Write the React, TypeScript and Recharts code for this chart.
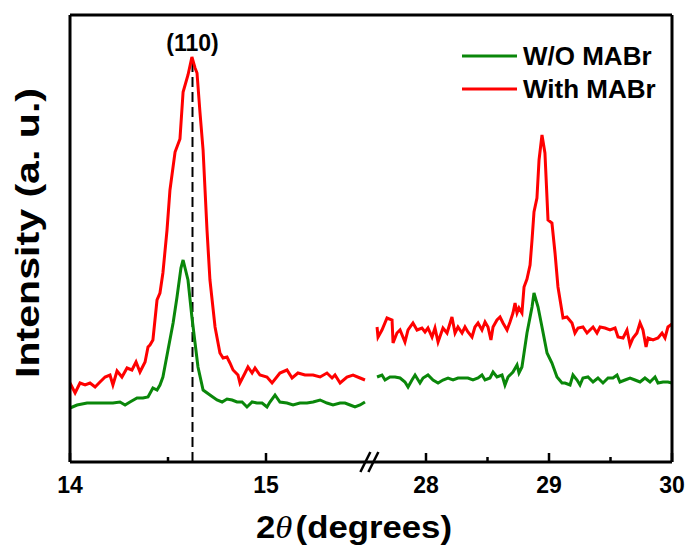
import { Line, LineChart, ReferenceLine, XAxis, YAxis } from "recharts";

// [2θ (deg), intensity (a.u.)]
const greenLow: [number, number][] = [
  [14.0, 54], [14.036, 57], [14.087, 59], [14.138, 59], [14.189, 59], [14.219, 59], [14.255, 60], [14.281, 57],
  [14.306, 60], [14.342, 64], [14.372, 64], [14.398, 65], [14.423, 74], [14.444, 72], [14.459, 77], [14.474, 85],
  [14.5, 112], [14.526, 139], [14.546, 165], [14.566, 194], [14.577, 202], [14.602, 182], [14.622, 145],
  [14.638, 119], [14.653, 95], [14.679, 72], [14.714, 67], [14.75, 62], [14.776, 60], [14.801, 63], [14.827, 62],
  [14.852, 60], [14.878, 60], [14.903, 55], [14.929, 60], [14.954, 59], [14.98, 59], [15.005, 55], [15.02, 60],
  [15.046, 67], [15.071, 60], [15.107, 59], [15.138, 57], [15.173, 59], [15.209, 59], [15.24, 60], [15.276, 62],
  [15.311, 59], [15.342, 57], [15.378, 59], [15.403, 59], [15.429, 57], [15.454, 55], [15.48, 57], [15.505, 60],
];
const redLow: [number, number][] = [
  [14.0, 79], [14.026, 69], [14.051, 79], [14.077, 77], [14.102, 79], [14.128, 75], [14.153, 80], [14.179, 85],
  [14.204, 87], [14.219, 77], [14.24, 91], [14.265, 85], [14.291, 94], [14.316, 92], [14.337, 100], [14.357, 90],
  [14.383, 100], [14.398, 115], [14.408, 117], [14.423, 122], [14.444, 162], [14.459, 169], [14.474, 189],
  [14.495, 232], [14.51, 272], [14.536, 310], [14.561, 323], [14.577, 370], [14.602, 387], [14.622, 405],
  [14.638, 394], [14.648, 389], [14.663, 350], [14.679, 312], [14.689, 272], [14.699, 232], [14.714, 182],
  [14.74, 135], [14.765, 109], [14.781, 104], [14.801, 105], [14.816, 99], [14.832, 92], [14.857, 87], [14.867, 79],
  [14.893, 89], [14.908, 95], [14.929, 89], [14.944, 94], [14.969, 87], [15.005, 85], [15.031, 79], [15.071, 89],
  [15.107, 92], [15.133, 84], [15.163, 89], [15.199, 87], [15.24, 87], [15.276, 85], [15.311, 89], [15.337, 84],
  [15.352, 87], [15.378, 79], [15.413, 85], [15.444, 87], [15.48, 84], [15.505, 82],
];
const greenHigh: [number, number][] = [
  [27.602, 85], [27.642, 87], [27.667, 82], [27.707, 85], [27.748, 85], [27.789, 84], [27.829, 80], [27.854, 75],
  [27.886, 82], [27.911, 87], [27.951, 79], [27.976, 84], [28.016, 87], [28.057, 82], [28.098, 79], [28.138, 82],
  [28.179, 84], [28.22, 82], [28.26, 84], [28.301, 84], [28.341, 84], [28.382, 82], [28.423, 84], [28.455, 87],
  [28.48, 82], [28.52, 84], [28.545, 90], [28.577, 85], [28.618, 87], [28.642, 77], [28.667, 85], [28.707, 90],
  [28.74, 97], [28.756, 89], [28.78, 95], [28.797, 109], [28.821, 129], [28.862, 155], [28.878, 169], [28.911, 155],
  [28.943, 135], [28.984, 109], [29.024, 99], [29.065, 85], [29.106, 79], [29.13, 79], [29.171, 77], [29.195, 87],
  [29.228, 82], [29.252, 77], [29.276, 84], [29.317, 85], [29.358, 80], [29.398, 84], [29.439, 79], [29.48, 84],
  [29.52, 84], [29.553, 87], [29.577, 80], [29.618, 82], [29.659, 84], [29.699, 82], [29.74, 80], [29.78, 84],
  [29.821, 80], [29.862, 85], [29.886, 79], [29.927, 80], [29.967, 80], [30.0, 79],
];
const redHigh: [number, number][] = [
  [27.602, 135], [27.61, 125], [27.642, 132], [27.683, 144], [27.724, 142], [27.732, 119], [27.764, 129],
  [27.789, 132], [27.829, 120], [27.854, 132], [27.894, 139], [27.927, 132], [27.967, 134], [27.992, 130],
  [28.016, 134], [28.049, 125], [28.073, 134], [28.098, 120], [28.138, 134], [28.171, 129], [28.211, 145],
  [28.236, 129], [28.26, 135], [28.293, 129], [28.317, 135], [28.341, 130], [28.374, 125], [28.398, 135],
  [28.423, 139], [28.455, 132], [28.48, 140], [28.504, 135], [28.528, 122], [28.545, 135], [28.577, 142],
  [28.602, 145], [28.626, 139], [28.659, 132], [28.683, 140], [28.707, 149], [28.724, 159], [28.74, 149],
  [28.756, 154], [28.78, 149], [28.797, 175], [28.821, 183], [28.846, 197], [28.862, 222], [28.878, 250],
  [28.902, 264], [28.919, 302], [28.943, 327], [28.967, 309], [28.992, 242], [29.024, 239], [29.049, 209],
  [29.073, 175], [29.114, 144], [29.146, 145], [29.187, 139], [29.211, 129], [29.236, 134], [29.276, 135],
  [29.309, 129], [29.333, 132], [29.358, 135], [29.39, 129], [29.415, 135], [29.455, 134], [29.496, 132],
  [29.537, 134], [29.561, 125], [29.602, 124], [29.634, 132], [29.659, 117], [29.683, 124], [29.715, 129],
  [29.74, 139], [29.764, 132], [29.789, 115], [29.805, 124], [29.846, 122], [29.886, 124], [29.919, 129],
  [29.943, 124], [29.967, 135], [30.0, 138],
];

const majorTicks = [14, 15, 28, 29, 30];
const minorTicks = [14.5, 28.5, 29.5];
const peak110 = 14.625;
const peakLabel = "(110)";
const seriesNames = ["W/O MABr", "With MABr"];

const GREEN = "#0a870a";
const RED = "#ff0000";
const FONT = "'Liberation Sans', Arial, sans-serif";

// broken x axis: both pieces live on one numeric scale, left piece 196 units/deg, right piece 123 units/deg
function toU(t: number) {
  return t < 20 ? (t - 14) * 196 : 356 + (t - 28) * 123;
}
const U_MAX = toU(30);
const I_MAX = 447;

const rows = (pts: [number, number][]) => pts.map(([t, i]) => ({ u: toU(t), i }));

const tickList = [...majorTicks.map((t) => ({ t, major: true })), ...minorTicks.map((t) => ({ t, major: false }))];

function BottomTick(props: any) {
  const { x, y, payload } = props;
  const info = tickList.find((d) => Math.abs(toU(d.t) - payload.value) < 0.01);
  if (!info) return null;
  return (
    <g>
      <line x1={x} x2={x} y1={y} y2={y - (info.major ? 9 : 5)} stroke="#000" strokeWidth={2.5} />
      {info.major && (
        <text x={x} y={y + 31} textAnchor="middle" fontSize={23} fontWeight="bold" fontFamily={FONT} fill="#000">
          {info.t}
        </text>
      )}
    </g>
  );
}

const frame = { stroke: "#000", strokeWidth: 3 };
const ax = { xAxisId: "b", yAxisId: "l" };

export default function App() {
  const breakU = (toU(15.51) + toU(27.6)) / 2;
  return (
    <div style={{ position: "absolute", left: 0, top: 0, width: 691, height: 548, background: "#fff" }}>
      <LineChart width={691} height={548} margin={{ top: 14, right: 18, bottom: 56, left: 69 }}>
        <XAxis
          xAxisId="b"
          type="number"
          dataKey="u"
          domain={[0, U_MAX]}
          ticks={tickList.map((d) => toU(d.t))}
          interval={0}
          tick={<BottomTick />}
          tickLine={false}
          tickSize={0}
          tickMargin={0}
          height={30}
          axisLine={frame}
          allowDataOverflow
        />
        <XAxis xAxisId="t" orientation="top" type="number" domain={[0, U_MAX]} tick={false} tickLine={false} height={1} axisLine={frame} />
        <YAxis yAxisId="l" type="number" domain={[0, I_MAX]} tick={false} tickLine={false} width={1} axisLine={frame} allowDataOverflow />
        <YAxis yAxisId="r" orientation="right" type="number" domain={[0, I_MAX]} tick={false} tickLine={false} width={1} axisLine={frame} />

        <ReferenceLine
          {...ax}
          segment={[{ x: toU(peak110), y: 0 }, { x: toU(peak110), y: 405 }]}
          stroke="#000"
          strokeWidth={2}
          strokeDasharray="10 5"
          label={{ value: peakLabel, position: "top", offset: 6, fill: "#000", fontSize: 23, fontWeight: "bold", fontFamily: FONT }}
        />
        <ReferenceLine {...ax} ifOverflow="visible" segment={[{ x: breakU - 11, y: -10 }, { x: breakU - 1, y: 10 }]} stroke="#000" strokeWidth={2.5} />
        <ReferenceLine {...ax} ifOverflow="visible" segment={[{ x: breakU - 3, y: -10 }, { x: breakU + 7, y: 10 }]} stroke="#000" strokeWidth={2.5} />

        <Line {...ax} data={rows(greenLow)} dataKey="i" stroke={GREEN} strokeWidth={3} dot={false} isAnimationActive={false} />
        <Line {...ax} data={rows(greenHigh)} dataKey="i" stroke={GREEN} strokeWidth={3} dot={false} isAnimationActive={false} />
        <Line {...ax} data={rows(redLow)} dataKey="i" stroke={RED} strokeWidth={3} dot={false} isAnimationActive={false} />
        <Line {...ax} data={rows(redHigh)} dataKey="i" stroke={RED} strokeWidth={3} dot={false} isAnimationActive={false} />
      </LineChart>

      <svg width={691} height={548} style={{ position: "absolute", left: 0, top: 0, pointerEvents: "none" }}>
        <text
          transform="translate(39,233) rotate(-90)"
          textAnchor="middle"
          fontSize={34}
          fontWeight="bold"
          fontFamily={FONT}
          fill="#000"
          textLength={290}
          lengthAdjust="spacingAndGlyphs"
        >
          Intensity (a. u.)
        </text>
        <text x={354} y={538} textAnchor="middle" fontSize={32} fontWeight="bold" fontFamily={FONT} fill="#000" textLength={196} lengthAdjust="spacingAndGlyphs">
          2
          <tspan fontFamily="'Liberation Serif', serif" fontStyle="italic" fontWeight="normal">θ</tspan>
          <tspan dx={3}>(degrees)</tspan>
        </text>
        {seriesNames.map((name, k) => (
          <g key={name}>
            <line x1={462} x2={517} y1={56 + k * 33} y2={56 + k * 33} stroke={k === 0 ? GREEN : RED} strokeWidth={3} />
            <text x={523} y={65 + k * 33} fontSize={26} fontWeight="bold" fontFamily={FONT} fill="#000">
              {name}
            </text>
          </g>
        ))}
      </svg>
    </div>
  );
}
